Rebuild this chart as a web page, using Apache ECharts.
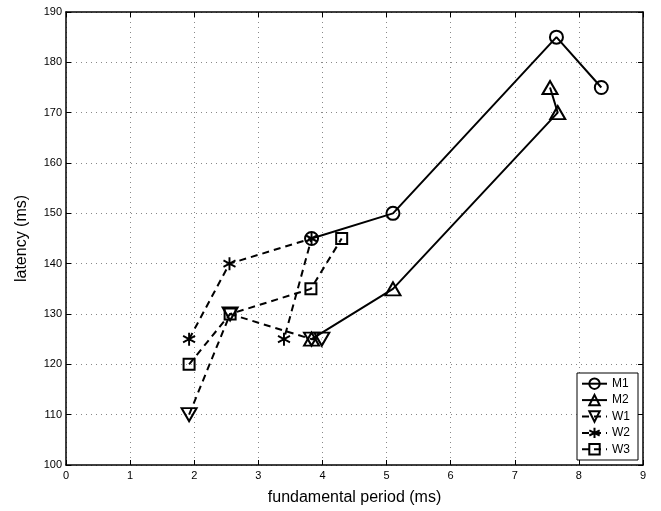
<!DOCTYPE html>
<html><head><meta charset="utf-8">
<script src="https://cdn.jsdelivr.net/npm/echarts@6/dist/echarts.min.js"></script>
<style>html,body{margin:0;padding:0;background:#fff}#c{width:661px;height:511px}</style>
</head><body><div id="c"></div>
<script>
var seriesNames = ['M1', 'M2', 'W1', 'W2', 'W3'];
var M1 = [[3.83, 145], [5.1, 150], [7.65, 185], [8.35, 175]];
var M2 = [[3.83, 125], [5.1, 135], [7.67, 170], [7.55, 175]];
var W1 = [[1.92, 110], [2.56, 130], [3.83, 125], [3.99, 125]];
var W2 = [[1.92, 125], [2.55, 140], [3.83, 145], [3.4, 125]];
var W3 = [[1.92, 120], [2.56, 130], [3.82, 135], [4.3, 145]];
var xTicks = [0, 1, 2, 3, 4, 5, 6, 7, 8, 9];
var yTicks = [100, 110, 120, 130, 140, 150, 160, 170, 180, 190];

var FONT = 'Liberation Sans, Arial, sans-serif';
var symbols = {
  M1: {s: 'circle', size: 13},
  M2: {s: 'path://M0,1.732L1,0L2,1.732Z', size: [15, 13]},
  W1: {s: 'path://M0,0L2,0L1,1.732Z', size: [15, 13]},
  W2: {s: 'path://M0,-1L0,1M-0.866,-0.5L0.866,0.5M-0.866,0.5L0.866,-0.5', size: [12, 13]},
  W3: {s: 'rect', size: 11}
};
var dataMap = {M1: M1, M2: M2, W1: W1, W2: W2, W3: W3};
var series = seriesNames.map(function (n) {
  var dashed = n.charAt(0) === 'W';
  return {
    name: n, type: 'line', data: dataMap[n],
    symbol: symbols[n].s, symbolSize: symbols[n].size,
    showAllSymbol: true,
    lineStyle: {color: '#000', width: 2, type: dashed ? [7, 5] : 'solid'},
    itemStyle: {color: 'none', borderColor: '#000', borderWidth: 2},
    emphasis: {disabled: true},
    animation: false, z: 3
  };
});

var chart = echarts.init(document.getElementById('c'), null, {renderer: 'canvas'});
var gridLine = {show: true, lineStyle: {color: '#888', type: [1, 4], width: 1}};
chart.setOption({
  backgroundColor: '#fff',
  animation: false,
  grid: {left: 66, right: 18, top: 12, bottom: 43.5, containLabel: false},
  xAxis: [{
    type: 'value', min: xTicks[0], max: xTicks[xTicks.length - 1], interval: 1,
    name: 'fundamental period (ms)', nameLocation: 'middle', nameGap: 25,
    nameTextStyle: {fontFamily: FONT, fontSize: 16, color: '#000'},
    axisLine: {show: true, onZero: false, lineStyle: {color: '#000', width: 1.5}},
    axisTick: {show: true, inside: true, length: 5, lineStyle: {color: '#000'}},
    axisLabel: {fontFamily: FONT, fontSize: 11, color: '#000', margin: 5},
    splitLine: gridLine
  }, {
    type: 'value', position: 'top', min: xTicks[0], max: xTicks[xTicks.length - 1], interval: 1,
    axisLine: {show: true, onZero: false, lineStyle: {color: '#000', width: 1.5}},
    axisTick: {show: true, inside: true, length: 5, lineStyle: {color: '#000'}},
    axisLabel: {show: false}, splitLine: {show: false}
  }],
  yAxis: [{
    type: 'value', min: yTicks[0], max: yTicks[yTicks.length - 1], interval: 10,
    name: 'latency (ms)', nameLocation: 'middle', nameGap: 36,
    nameTextStyle: {fontFamily: FONT, fontSize: 16, color: '#000'},
    axisLine: {show: true, onZero: false, lineStyle: {color: '#000', width: 1.5}},
    axisTick: {show: true, inside: true, length: 5, lineStyle: {color: '#000'}},
    axisLabel: {fontFamily: FONT, fontSize: 11, color: '#000', margin: 4},
    splitLine: gridLine
  }, {
    type: 'value', position: 'right', min: yTicks[0], max: yTicks[yTicks.length - 1], interval: 10,
    axisLine: {show: true, onZero: false, lineStyle: {color: '#000', width: 1.5}},
    axisTick: {show: true, inside: true, length: 5, lineStyle: {color: '#000'}},
    axisLabel: {show: false}, splitLine: {show: false}
  }],
  legend: {
    data: seriesNames, orient: 'vertical', right: 23, bottom: 51,
    backgroundColor: '#fff', borderColor: '#000', borderWidth: 1, borderRadius: 0,
    padding: [3, 8, 3, 4], itemGap: 1, itemWidth: 25, itemHeight: 13,
    textStyle: {fontFamily: FONT, fontSize: 12, lineHeight: 13, color: '#000', padding: [0, 0, 0, 0]},
    selectedMode: false
  },
  series: series
});
</script></body></html>
